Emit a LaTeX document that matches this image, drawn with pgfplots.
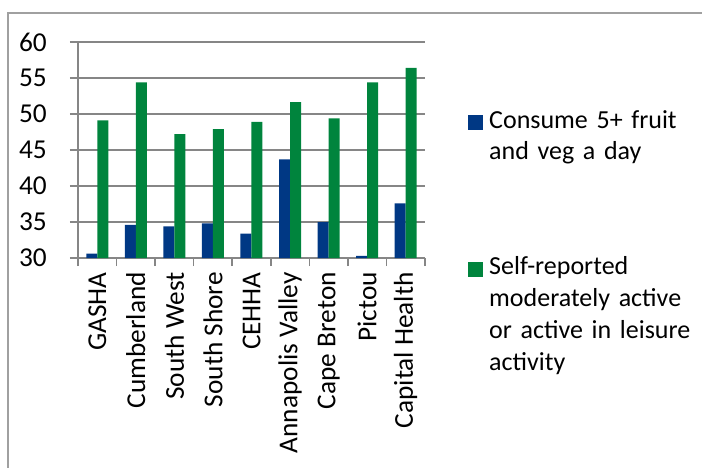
\documentclass[border=0pt]{standalone}
\usepackage{fontspec}
\setmainfont{Carlito}
\usepackage{pgfplots}
\pgfplotsset{compat=1.18}

\hyphenpenalty=10000
\exhyphenpenalty=10000

\definecolor{fvblue}{RGB}{0,56,132}
\definecolor{actgreen}{RGB}{0,132,61}
\definecolor{gridgray}{RGB}{134,134,134}
\definecolor{framegray}{RGB}{160,160,160}
\newcommand{\chartfont}{\fontsize{26bp}{31.7bp}\selectfont}
\newcommand{\tickfont}{\fontsize{27.3bp}{32bp}\selectfont}

\pgfplotsset{
  sq legend/.style={legend image code/.code={\fill[##1] (0bp,-10bp) rectangle (15bp,5bp);}},
}

\begin{document}
\begin{tikzpicture}
\useasboundingbox (0,0) rectangle (702bp,-468bp);
% outer chart frame
\draw[framegray, line width=2bp] (8bp,-480bp) -- (8bp,-13bp) -- (720bp,-13bp);
\begin{axis}[
  at={(78bp,-258bp)}, anchor=south west,
  scale only axis, width=347bp, height=216bp,
  ybar=0pt, bar width=11bp,
  xmin=-0.5, xmax=8.5, ymin=30, ymax=60,
  axis lines*=left,
  axis line style={gridgray, line width=1.5bp},
  ytick={30,35,...,60},
  ymajorgrids, grid style={gridgray, line width=1.5bp},
  xtick={-0.5,0.5,...,8.5},
  x tick label as interval,
  xticklabels={GASHA, Cumberland, South West, South Shore, CEHHA, Annapolis Valley, Cape Breton, Pictou, Capital Health},
  tick align=outside,
  major tick length=8bp,
  tick style={gridgray, line width=1.5bp},
  tick label style={font=\tickfont, text=black},
  /pgf/number format/assume math mode=true,
  x tick label style={yshift=-6bp, rotate=90, anchor=east, inner sep=0pt},
  y tick label style={inner sep=0pt, xshift=-23bp},
  legend style={at={(1.1239,0.685)}, anchor=north west, draw=none, fill=none,
    inner sep=0pt, row sep=127bp, column sep=6bp, font=\chartfont,
    nodes={inner sep=0pt, text width=210bp, align=left}},
  legend cell align=left,
]
\addplot[fill=fvblue, draw=none, sq legend] coordinates {
  (0,30.6) (1,34.6) (2,34.4) (3,34.8) (4,33.4) (5,43.7) (6,35.0) (7,30.3) (8,37.6)
};
\addlegendentry{Consume 5+ fruit and veg a day}
\addplot[fill=actgreen, draw=none, sq legend] coordinates {
  (0,49.1) (1,54.4) (2,47.2) (3,47.9) (4,48.9) (5,51.65) (6,49.4) (7,54.4) (8,56.4)
};
\addlegendentry{Self-reported moderately active or active in leisure activity}
\end{axis}
\end{tikzpicture}
\end{document}
